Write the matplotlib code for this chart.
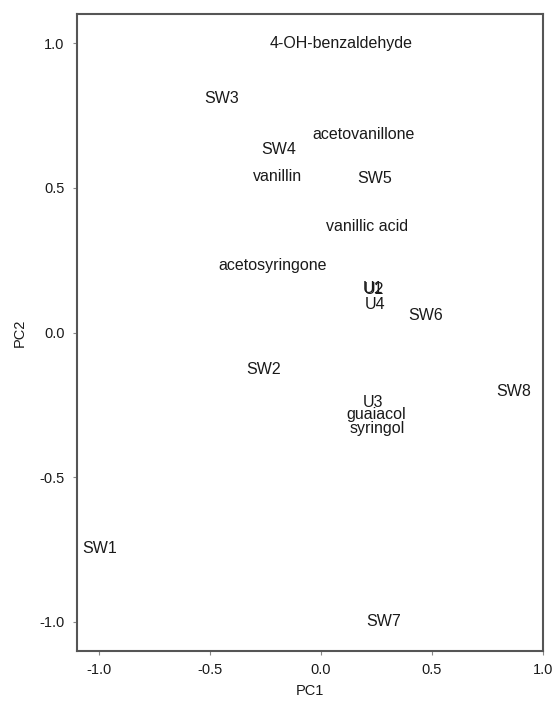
import matplotlib
matplotlib.use("Agg")
import matplotlib.pyplot as plt

# PCA biplot: labels only, positions
labels = ['4-OH-benzaldehyde', 'SW3', 'SW4', 'acetovanillone', 'vanillin', 'SW5',
          'vanillic acid', 'acetosyringone', 'U1', 'U2', 'U4', 'SW6', 'SW2', 'SW8',
          'U3', 'guaiacol', 'syringol', 'SW1', 'SW7']
pc1 = [0.09, -0.446, -0.19, 0.19, -0.198, 0.243,
       0.207, -0.22, 0.236, 0.240, 0.243, 0.473, -0.257, 0.87,
       0.234, 0.248, 0.252, -1.0, 0.28]
pc2 = [1.0, 0.807, 0.634, 0.683, 0.538, 0.531,
       0.366, 0.231, 0.152, 0.150, 0.097, 0.059, -0.128, -0.203,
       -0.243, -0.283, -0.331, -0.748, -1.0]

ticks = [-1.0, -0.5, 0.0, 0.5, 1.0]
tick_labels = ['-1.0', '-0.5', '0.0', '0.5', '1.0']

plt.rcParams['font.family'] = ['Liberation Sans', 'DejaVu Sans']

fig = plt.figure(figsize=(5.58, 7.09), dpi=100)
ax = fig.add_axes([0.138, 0.082, 0.835, 0.898])

for lab, x, y in zip(labels, pc1, pc2):
    ax.text(x, y, lab, ha='center', va='center', fontsize=11.5, color='#1a1a1a', clip_on=False)

ax.set_xlim(-1.10, 1.0)
ax.set_ylim(-1.10, 1.10)
ax.set_xticks(ticks)
ax.set_xticklabels(tick_labels)
ax.set_yticks(ticks)
ax.set_yticklabels(tick_labels)
ax.tick_params(length=3, width=0.8, color='#888888', labelsize=10.5, labelcolor='#1a1a1a', pad=6)
for s in ax.spines.values():
    s.set_color('#555555')
    s.set_linewidth(1.5)

ax.set_xlabel('PC1', fontsize=10.5, color='#1a1a1a', labelpad=5)
ax.set_ylabel('PC2', fontsize=10.5, color='#1a1a1a', labelpad=9)

fig.savefig('out.png', dpi=100)
